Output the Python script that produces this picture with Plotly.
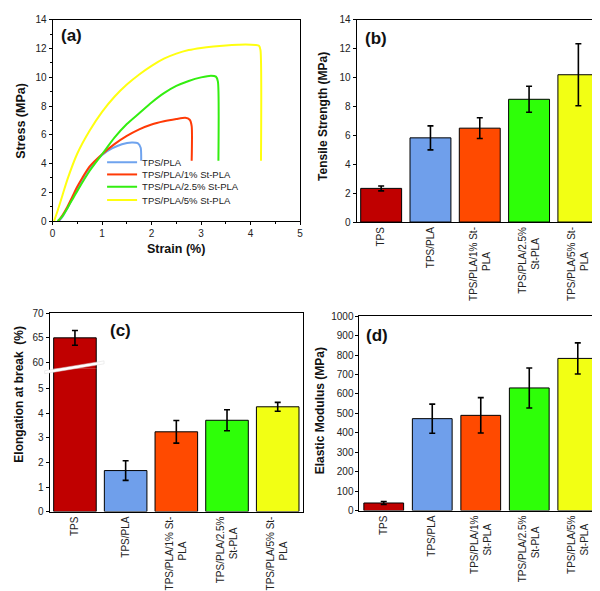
import plotly.graph_objects as go

W, H = 600, 591

# ---------------- data ----------------
# (a) stress-strain curves
strain_pla = [0.13, 0.2, 0.3, 0.4, 0.5, 0.6, 0.75, 1.0, 1.2, 1.4, 1.6, 1.72, 1.78, 1.79]
stress_pla = [0.0, 0.3, 0.9, 1.6, 2.25, 2.9, 3.7, 4.6, 5.05, 5.35, 5.47, 5.42, 5.1, 4.2]

strain_1 = [0.12, 0.2, 0.3, 0.4, 0.5, 0.6, 0.75, 1.0, 1.25, 1.5, 1.75, 2.0, 2.25, 2.5, 2.68, 2.77, 2.81, 2.81]
stress_1 = [0.0, 0.4, 1.0, 1.7, 2.4, 3.0, 3.8, 4.65, 5.35, 5.92, 6.38, 6.72, 6.94, 7.1, 7.19, 7.05, 6.6, 4.2]

strain_25 = [0.1, 0.2, 0.3, 0.4, 0.5, 0.75, 1.0, 1.25, 1.5, 1.75, 2.0, 2.25, 2.5, 2.75, 3.0, 3.2, 3.3, 3.34, 3.35]
stress_25 = [0.0, 0.35, 0.9, 1.5, 2.1, 3.5, 4.65, 5.8, 6.75, 7.5, 8.25, 8.9, 9.4, 9.75, 10.0, 10.12, 10.05, 9.7, 4.2]

strain_5 = [0.03, 0.1, 0.2, 0.3, 0.5, 0.75, 1.0, 1.25, 1.5, 1.75, 2.0, 2.25, 2.5, 2.75, 3.0, 3.25, 3.5, 3.75, 3.9, 4.1, 4.17, 4.2, 4.21]
stress_5 = [0.0, 0.7, 1.8, 2.9, 4.7, 6.3, 7.6, 8.65, 9.5, 10.2, 10.8, 11.3, 11.65, 11.9, 12.05, 12.15, 12.22, 12.27, 12.29, 12.25, 12.2, 11.9, 4.2]

curve_names = ["TPS/PLA", "TPS/PLA/1% St-PLA", "TPS/PLA/2.5% St-PLA", "TPS/PLA/5% St-PLA"]

# (b), (c), (d) bar data
cats = ["TPS", "TPS/PLA", "TPS/PLA/1% St-PLA", "TPS/PLA/2.5% St-PLA", "TPS/PLA/5% St-PLA"]
NB = "&nbsp;"
labels_bc = ["TPS", "TPS/PLA", "TPS/PLA/1% St-<br>PLA" + NB * 9, "TPS/PLA/2.5%<br>St-PLA" + NB * 4,
             "TPS/PLA/5% St-<br>PLA" + NB * 9]
labels_d = ["TPS", "TPS/PLA", "TPS/PLA/1%<br>St-PLA" + NB * 3, "TPS/PLA/2.5%<br>St-PLA" + NB * 4,
            "TPS/PLA/5%<br>St-PLA" + NB * 3]

tensile = [2.33, 5.83, 6.5, 8.5, 10.2]
tensile_err = [0.17, 0.83, 0.72, 0.9, 2.15]

elongation = [65.0, 1.67, 3.25, 3.72, 4.27]
elongation_err = [1.5, 0.4, 0.46, 0.43, 0.18]

modulus = [39, 473, 490, 631, 783]
modulus_err = [8, 75, 91, 103, 80]

# ---------------- styles ----------------
curve_colors = ["#6fa3ee", "#ff3a06", "#33ee10", "#ffff10"]
bar_colors = ["#c00000", "#6f9feb", "#ff4a00", "#2eff08", "#f2ff14"]
FONT = "Arial, Liberation Sans, sans-serif"


def px_x(p):
    return p / W


def px_y(p):
    return 1 - p / H


fig = go.Figure()

# (a) curves, each with its own legend box so rows can sit close together
legend_ids = ["legend", "legend2", "legend3", "legend4"]
for sx, sy, nm, col, lg in zip([strain_pla, strain_1, strain_25, strain_5],
                               [stress_pla, stress_1, stress_25, stress_5],
                               curve_names, curve_colors, legend_ids):
    fig.add_trace(go.Scatter(x=sx, y=sy, mode="lines", name=nm, legend=lg,
                             line=dict(color=col, width=2, shape="spline", smoothing=0.6),
                             xaxis="x", yaxis="y"))


def bar(vals, errs, labels, xa, ya, w=0.83):
    return go.Bar(x=labels, y=vals, marker=dict(color=bar_colors, line=dict(color="black", width=1)),
                  error_y=dict(type="data", array=errs, visible=True, color="black", thickness=1.6, width=3),
                  width=w, showlegend=False, xaxis=xa, yaxis=ya)


fig.add_trace(bar(tensile, tensile_err, labels_bc, "x2", "y2", 0.83))
fig.add_trace(bar(elongation, elongation_err, labels_bc, "x3", "y3", 0.84))
fig.add_trace(bar(elongation, elongation_err, labels_bc, "x4", "y4", 0.84))
fig.add_trace(bar(modulus, modulus_err, labels_d, "x5", "y5", 0.82))

axis_common = dict(showline=True, linecolor="black", linewidth=1, showgrid=False, zeroline=False,
                   tickfont=dict(family=FONT, size=10, color="#222"), ticks="outside",
                   ticklen=3, tickcolor="black")

# split in (c) at pixel 362
c_top, c_split, c_bot = 306, 362, 508
lower_max = (c_bot - c_split) / 25.0
upper_min = 70 - (c_split - c_top) / 5.0

legend_rows = [152, 164.5, 177, 190.5]
legend_layout = {}
for lg, row in zip(legend_ids, legend_rows):
    legend_layout[lg] = dict(x=px_x(92), y=px_y(row), xanchor="left", yanchor="middle",
                             bgcolor="rgba(0,0,0,0)", itemwidth=30,
                             font=dict(family=FONT, size=9.5, color="#222"))

fig.update_layout(
    width=W, height=H, margin=dict(l=0, r=0, t=0, b=0),
    paper_bgcolor="white", plot_bgcolor="white",
    font=dict(family=FONT, color="#222"),
    xaxis=dict(axis_common, domain=[px_x(42), px_x(292)], range=[0, 5], dtick=1, anchor="y", mirror=True,
               minor=dict(ticks="outside", ticklen=2, dtick=0.5, tickcolor="black")),
    yaxis=dict(axis_common, domain=[px_y(212), px_y(7)], range=[0, 14], dtick=2, anchor="x", mirror=True,
               minor=dict(ticks="outside", ticklen=2, dtick=1, tickcolor="black")),
    xaxis2=dict(axis_common, domain=[px_x(349), px_x(598)], anchor="y2", mirror=True, ticks="",
                tickangle=-90, categoryorder="array", categoryarray=labels_bc),
    yaxis2=dict(axis_common, domain=[px_y(213), px_y(7)], range=[0, 14], dtick=2, anchor="x2", mirror=True),
    xaxis3=dict(axis_common, domain=[px_x(39), px_x(295)], anchor="y3", ticks="", tickangle=-90,
                categoryorder="array", categoryarray=labels_bc),
    yaxis3=dict(axis_common, domain=[px_y(c_bot), px_y(c_split)], range=[0, lower_max], dtick=1,
                anchor="x3", mirror=True),
    xaxis4=dict(axis_common, domain=[px_x(39), px_x(295)], anchor="y4", side="top", ticks="",
                showticklabels=False, matches="x3", categoryorder="array", categoryarray=labels_bc),
    yaxis4=dict(axis_common, domain=[px_y(c_split), px_y(c_top)], range=[upper_min, 70],
                tickvals=[60, 65, 70], anchor="x4", mirror=True),
    xaxis5=dict(axis_common, domain=[px_x(352), px_x(597)], anchor="y5", mirror=True, ticks="",
                tickangle=-90, categoryorder="array", categoryarray=labels_d),
    yaxis5=dict(axis_common, domain=[px_y(507), px_y(309)], range=[0, 1000], dtick=100, anchor="x5",
                mirror=True),
    bargap=0.17,
    **legend_layout,
)


# axis titles and panel labels
def ann(text, x, y, size=11, angle=0, bold=True):
    fig.add_annotation(text=f"<b>{text}</b>" if bold else text, x=px_x(x), y=px_y(y), xref="paper",
                       yref="paper", showarrow=False, textangle=angle,
                       font=dict(family=FONT, size=size, color="#111"), xanchor="center", yanchor="middle")


ann("Stress (MPa)", 10, 110, 12.5, -90)
ann("Strain (%)", 167, 240, 12.5)
ann("Tensile Strength (MPa)", 315, 105, 12, -90)
ann("Elongation at break  (%)", 8, 388, 12, -90)
ann("Elastic Modulus (MPa)", 313, 405, 12, -90)
ann("(a)", 61, 23, 17)
ann("(b)", 369, 26, 17)
ann("(c)", 111, 324, 17)
ann("(d)", 370, 329, 17)

# axis break mark in (c)
x0, x1 = px_x(34), px_x(94)
fig.add_shape(type="path", xref="paper", yref="paper",
              path=f"M {x0},{px_y(367.5)} L {x1},{px_y(357.5)} L {x1},{px_y(354.5)} L {x0},{px_y(364.5)} Z",
              fillcolor="white", line=dict(color="#dddddd", width=0.5), layer="above")

fig.write_html("out.html")
